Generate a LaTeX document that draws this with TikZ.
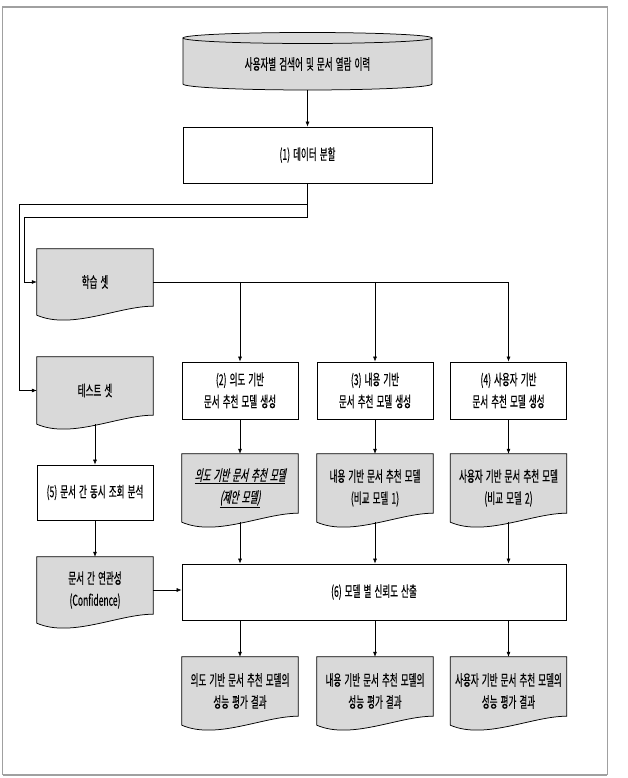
\documentclass[tikz,border=0pt]{standalone}
\usepackage{fontspec}
\setmainfont{Noto Sans CJK KR}[FakeStretch=0.57,FakeBold=0.4,WordSpace=1.6]
\newfontfamily\krslant{Noto Sans CJK KR}[FakeStretch=0.57,FakeBold=0.4,WordSpace=1.6,FakeSlant=0.2]
\usepackage{tikz}
\usetikzlibrary{arrows.meta,positioning,calc,backgrounds}
\definecolor{docgray}{RGB}{217,217,217}
\definecolor{framegray}{RGB}{160,160,160}
\tikzset{
  procbox/.style={draw,fill=white,line width=0.75pt,minimum width=116pt,minimum height=57pt,align=center,inner sep=0pt},
  docbox/.style={minimum width=116pt,align=center,inner sep=0pt},
  flow/.style={-{Latex[length=5pt,width=4pt]},line width=0.6pt}
}
\newcommand{\docoutline}[1]{%
  \begin{pgfonlayer}{background}
  \filldraw[fill=docgray,line width=0.75pt] (#1.north west) -- (#1.north east)
    -- ($(#1.south east)+(0,9)$)
    .. controls ($(#1.south east)!0.3!(#1.south west)+(0,9)$)
    and ($(#1.south west)!0.3!(#1.south east)+(0,-15)$) .. (#1.south west) -- cycle;
  \end{pgfonlayer}}

\begin{document}
\begin{tikzpicture}[x=1pt,y=1pt,font=\fontsize{15}{22}\selectfont]
\useasboundingbox (0,0) rectangle (627,778);
\draw[framegray,line width=1pt] (2.5,3) rectangle (607,771);
\draw[framegray,line width=2pt] (2.5,771) -- (607,771) (2.5,3) -- (607,3);

\node[minimum width=249pt,minimum height=52pt,inner sep=0pt] (hist) at (307.5,714) {사용자별 검색어 및 문서 열람 이력};
\begin{scope}[on background layer]
\filldraw[fill=docgray,line width=0.75pt] (183,740) -- (183,694) arc[start angle=180,end angle=360,x radius=124.5,y radius=6] -- (432,740);
\filldraw[fill=docgray,line width=0.75pt] (307.5,740) ellipse[x radius=124.5,y radius=5.5];
\end{scope}

\node[procbox,minimum width=249pt,minimum height=56pt] (split) at (307.5,623) {(1) 데이터 분할};
\node[docbox,minimum height=66pt] (train) at (95,496) {학습 셋};
\node[docbox,minimum height=67pt] (test) at (95,387.5) {테스트 셋};
\node[procbox] (gen2) at (240,387.5) {(2) 의도 기반\\문서 추천 모델 생성};
\node[procbox] (gen3) at (375,387.5) {(3) 내용 기반\\문서 추천 모델 생성};
\node[procbox] (gen4) at (508.5,387.5) {(4) 사용자 기반\\문서 추천 모델 생성};
\node[docbox,minimum height=68pt] (model2) at (240,290) {\krslant\underline{의도 기반 문서 추천 모델}\\\krslant\underline{(제안 모델)}};
\node[docbox,minimum height=68pt] (model3) at (375,290) {내용 기반 문서 추천 모델\\(비교 모델 1)};
\node[docbox,minimum height=68pt] (model4) at (508.5,290) {사용자 기반 문서 추천 모델\\(비교 모델 2)};
\node[procbox,minimum height=55pt] (cooc) at (95,285.5) {(5) 문서 간 동시 조회 분석};
\node[docbox,minimum height=66pt] (conf) at (95,188) {문서 간 연관성\\(Confidence)};
\node[procbox,minimum width=384pt,minimum height=56pt] (trust) at (374,186) {(6) 모델 별 신뢰도 산출};
\node[docbox,minimum height=68pt] (eval2) at (240,87) {의도 기반 문서 추천 모델의\\성능 평가 결과};
\node[docbox,minimum height=68pt] (eval3) at (375,87) {내용 기반 문서 추천 모델의\\성능 평가 결과};
\node[docbox,minimum height=68pt] (eval4) at (508.5,87) {사용자 기반 문서 추천 모델의\\성능 평가 결과};
\docoutline{train}
\docoutline{test}
\docoutline{model2}
\docoutline{model3}
\docoutline{model4}
\docoutline{conf}
\docoutline{eval2}
\docoutline{eval3}
\docoutline{eval4}

\coordinate (testturn) at (19,574);
\coordinate (trainturn) at (24,561);
\draw[flow] (hist.south) -- (split.north);
\draw[flow] (split.south) |- (trainturn) |- (train.west);
\draw[flow] (split.south |- testturn) -- (testturn) |- (test.west);
\draw[flow] (train.east) -| (gen4.north);
\draw[flow] (train.east -| gen2.north) -- (gen2.north);
\draw[flow] (train.east -| gen3.north) -- (gen3.north);
\draw[flow] (gen2.south) -- (model2.north);
\draw[flow] (gen3.south) -- (model3.north);
\draw[flow] (gen4.south) -- (model4.north);
\draw[flow] (model2.south) -- (model2.south |- trust.north);
\draw[flow] (model3.south) -- (model3.south |- trust.north);
\draw[flow] (model4.south) -- (model4.south |- trust.north);
\draw[flow] (test.south) -- (cooc.north);
\draw[flow] (cooc.south) -- (conf.north);
\draw[flow] (conf.east) -- (conf.east -| trust.west);
\draw[flow] (trust.south -| eval2.north) -- (eval2.north);
\draw[flow] (trust.south -| eval3.north) -- (eval3.north);
\draw[flow] (trust.south -| eval4.north) -- (eval4.north);
\end{tikzpicture}
\end{document}
